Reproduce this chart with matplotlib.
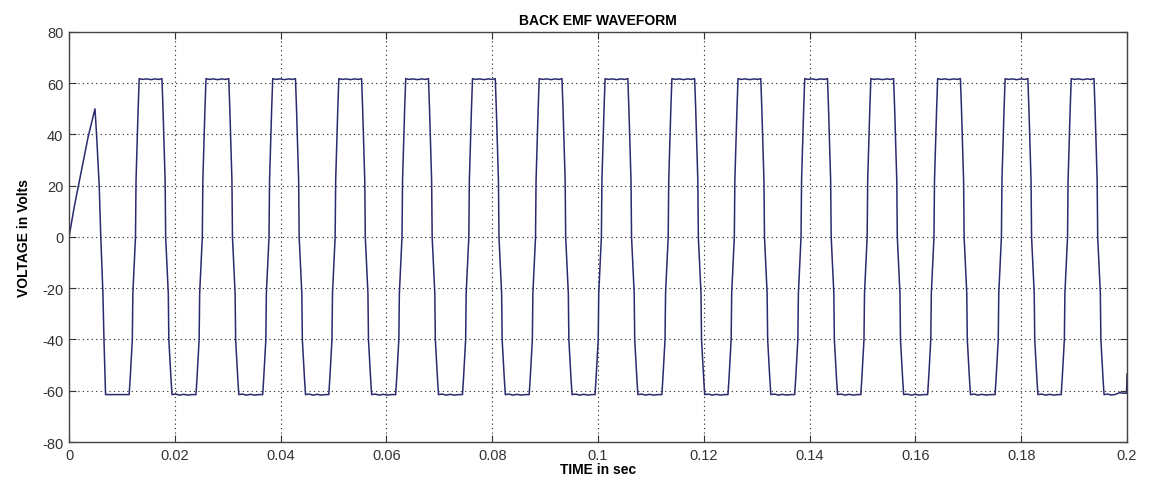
import numpy as np
import matplotlib
matplotlib.use('Agg')
from matplotlib import pyplot as plt

plt.rcParams['font.family'] = ['Liberation Sans', 'DejaVu Sans']
plt.rcParams['axes.unicode_minus'] = False

# start-up ramp (time s, volts)
ramp_t = [0.0, 0.0010, 0.0036, 0.0049]
ramp_v = [0.0, 12.0, 39.0, 50.0]

# times where each top plateau begins
top_start = [0.01326, 0.02589, 0.03850, 0.05100, 0.06364, 0.07627, 0.08888,
             0.10133, 0.11396, 0.12646, 0.13907, 0.15157, 0.16420, 0.17695,
             0.18945]

# shape of one cycle, offsets from the top plateau start
rise_dt = [-0.0019, -0.0017, -0.0013, -0.0012, -0.0007, -0.0006, -0.0002, 0.0]
rise_v = [-61.5, -55.0, -40.0, -22.0, 0.0, 22.0, 50.0, 61.5]
top_dt = [0.0, 0.0006, 0.0014, 0.0022, 0.0030, 0.0037, 0.0043]
top_v = [61.8, 61.5, 61.7, 61.4, 61.7, 61.5, 61.8]
fall_dt = [0.0043, 0.0045, 0.0049, 0.0050, 0.0055, 0.0056, 0.0060, 0.0062]
fall_v = [61.8, 50.0, 22.0, 0.0, -22.0, -40.0, -55.0, -61.5]
bot_dt = [0.0062, 0.0069, 0.0076, 0.0084, 0.0092, 0.0099]
bot_v = [-61.5, -61.3, -61.7, -61.4, -61.7, -61.5]

# first fall after the ramp and the tail at 0.2 s
first_fall_t = [0.0049, 0.0052, 0.0057, 0.0060, 0.0064, 0.0066, 0.0069]
first_fall_v = [50.0, 40.0, 20.0, 0.0, -22.0, -40.0, -61.5]
end_t = [0.1985, 0.1999, 0.2]
end_v = [-60.8, -61.0, -53.5]

t = list(ramp_t) + first_fall_t
v = list(ramp_v) + first_fall_v
for ts in top_start:
    for seg_dt, seg_v in [(rise_dt, rise_v), (top_dt, top_v),
                          (fall_dt, fall_v), (bot_dt, bot_v)]:
        for d, val in zip(seg_dt, seg_v):
            if ts + d <= 0.1985:
                t.append(ts + d)
                v.append(val)
t += end_t
v += end_v

fig = plt.figure(figsize=(11.49, 4.81), dpi=100)
ax = fig.add_axes([0.0601, 0.079, 0.9208, 0.8524])

ax.plot(t, v, color='#2a2a6e', linewidth=1.1)

ax.set_xlim(0, 0.2)
ax.set_ylim(-80, 80)
ax.set_xticks(np.arange(0, 0.2001, 0.02))
ax.set_xticklabels(['0', '0.02', '0.04', '0.06', '0.08', '0.1', '0.12',
                    '0.14', '0.16', '0.18', '0.2'])
ax.set_yticks(np.arange(-80, 81, 20))

ax.grid(True, linestyle=(0, (1, 3)), color='#222222', linewidth=0.8)
ax.tick_params(direction='in', length=5, top=True, right=True,
               labelsize=10.5, colors='#333333', pad=4)
for s in ax.spines.values():
    s.set_color('#444444')
    s.set_linewidth(1.0)

ax.set_title('BACK EMF WAVEFORM', fontsize=10, fontweight='bold', pad=6)
ax.set_xlabel('TIME in sec', fontsize=10, fontweight='bold', labelpad=0)
ax.set_ylabel('VOLTAGE in Volts', fontsize=10, fontweight='bold', labelpad=8)

fig.savefig('out.png', dpi=100)
